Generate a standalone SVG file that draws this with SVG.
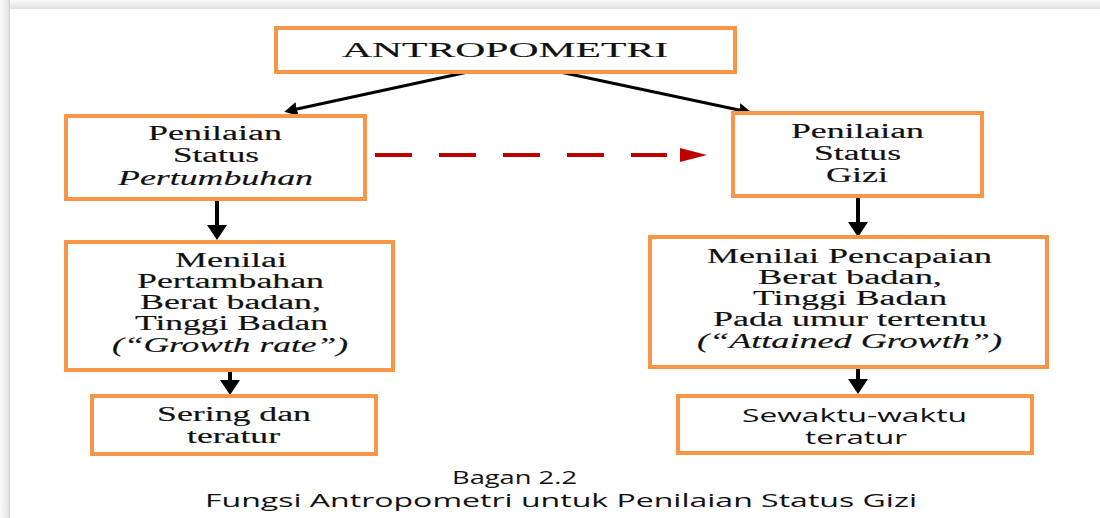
<svg xmlns="http://www.w3.org/2000/svg" width="1100" height="518" viewBox="0 0 1100 518">
<defs>
<linearGradient id="shTop" x1="0" y1="0" x2="0" y2="1">
<stop offset="0" stop-color="#fafafa"/><stop offset="1" stop-color="#e2e2e2"/>
</linearGradient>
<linearGradient id="shLeft" x1="0" y1="0" x2="1" y2="0">
<stop offset="0" stop-color="#fafafa"/><stop offset="0.8" stop-color="#e8e8e8"/><stop offset="1" stop-color="#cccccc"/>
</linearGradient>
<marker id="headV" markerUnits="userSpaceOnUse" markerWidth="22" markerHeight="22" refX="0" refY="10" orient="auto">
<path d="M0,0 L15,10 L0,20 Z" fill="#000"/>
</marker>
<marker id="headD" markerUnits="userSpaceOnUse" markerWidth="16" markerHeight="16" refX="0" refY="7" orient="auto">
<path d="M0,0 L13,7 L0,14 Z" fill="#000"/>
</marker>
<style>
.box{fill:#fff;stroke:#F79646;stroke-width:4}
.t{font-family:"Liberation Serif","Times New Roman",serif;font-size:20px;fill:#111;stroke:#111;stroke-width:0.15}
.i{font-style:italic}
.s{font-family:"Open Sans","Liberation Sans",Arial,sans-serif;font-size:18px;fill:#111}
.arV{stroke:#000;stroke-width:4;fill:none}
.arD{stroke:#000;stroke-width:3;fill:none}
</style>
</defs>
<rect x="0" y="0" width="1100" height="518" fill="#fff"/>
<rect x="0" y="0" width="1100" height="9" fill="url(#shTop)"/>
<rect x="0" y="0" width="10" height="518" fill="url(#shLeft)"/>

<g id="connectors">
<line class="arD" x1="468" y1="72" x2="297" y2="109" marker-end="url(#headD)"/>
<line class="arD" x1="560" y1="72" x2="739" y2="110" marker-end="url(#headD)"/>
<line class="arV" x1="217" y1="199" x2="217" y2="225" marker-end="url(#headV)"/>
<line class="arV" x1="858" y1="196" x2="858" y2="222" marker-end="url(#headV)"/>
<line class="arV" x1="230" y1="370" x2="230" y2="380" marker-end="url(#headV)"/>
<line class="arV" x1="858" y1="367" x2="858" y2="379" marker-end="url(#headV)"/>
<line x1="375" y1="155" x2="667" y2="155" stroke="#C00000" stroke-width="4" stroke-dasharray="37 27"/>
<polygon points="680,148 707,155 680,162" fill="#C00000"/>
</g>

<g id="antropometri">
<rect class="box" x="276" y="28" width="459" height="44"/>
<text class="t" x="342" y="57" font-size="24" textLength="326" lengthAdjust="spacingAndGlyphs">ANTROPOMETRI</text>
</g>

<g id="penilaian-pertumbuhan">
<rect class="box" x="66" y="116" width="299" height="83"/>
<text class="t" x="148" y="140" textLength="134" lengthAdjust="spacingAndGlyphs">Penilaian</text>
<text class="t" x="173" y="162" textLength="86" lengthAdjust="spacingAndGlyphs">Status</text>
<text class="t i" x="118" y="185" textLength="195" lengthAdjust="spacingAndGlyphs">Pertumbuhan</text>
</g>

<g id="penilaian-gizi">
<rect class="box" x="733" y="113" width="249" height="83"/>
<text class="t" x="791" y="138" textLength="133" lengthAdjust="spacingAndGlyphs">Penilaian</text>
<text class="t" x="814" y="160" textLength="87" lengthAdjust="spacingAndGlyphs">Status</text>
<text class="t" x="826" y="182" textLength="62" lengthAdjust="spacingAndGlyphs">Gizi</text>
</g>

<g id="menilai-pertambahan">
<rect class="box" x="66" y="242" width="327" height="128"/>
<text class="t" x="175" y="267" textLength="112" lengthAdjust="spacingAndGlyphs">Menilai</text>
<text class="t" x="137" y="288" textLength="187" lengthAdjust="spacingAndGlyphs">Pertambahan</text>
<text class="t" x="140" y="309" textLength="181" lengthAdjust="spacingAndGlyphs">Berat badan,</text>
<text class="t" x="135" y="330" textLength="193" lengthAdjust="spacingAndGlyphs">Tinggi Badan</text>
<text class="t i" x="112" y="352" textLength="236" lengthAdjust="spacingAndGlyphs">(“Growth rate”)</text>
</g>

<g id="menilai-pencapaian">
<rect class="box" x="650" y="237" width="397" height="130"/>
<text class="t" x="707" y="263" textLength="285" lengthAdjust="spacingAndGlyphs">Menilai Pencapaian</text>
<text class="t" x="758" y="284" textLength="184" lengthAdjust="spacingAndGlyphs">Berat badan,</text>
<text class="t" x="753" y="305" textLength="194" lengthAdjust="spacingAndGlyphs">Tinggi Badan</text>
<text class="t" x="713" y="326" textLength="274" lengthAdjust="spacingAndGlyphs">Pada umur tertentu</text>
<text class="t i" x="697" y="348" textLength="305" lengthAdjust="spacingAndGlyphs">(“Attained Growth”)</text>
</g>

<g id="sering">
<rect class="box" x="92" y="396" width="284" height="58"/>
<text class="t" x="157" y="421" textLength="154" lengthAdjust="spacingAndGlyphs">Sering dan</text>
<text class="t" x="187" y="443" textLength="93" lengthAdjust="spacingAndGlyphs">teratur</text>
</g>

<g id="sewaktu">
<rect class="box" x="678" y="396" width="354" height="57"/>
<text class="s" x="742" y="422" textLength="225" lengthAdjust="spacingAndGlyphs">Sewaktu-waktu</text>
<text class="s" x="805" y="444" textLength="102" lengthAdjust="spacingAndGlyphs">teratur</text>
</g>

<g id="caption">
<text class="s" x="452" y="484" textLength="125" lengthAdjust="spacingAndGlyphs">Bagan 2.2</text>
<text class="s" x="205" y="507" textLength="712" lengthAdjust="spacingAndGlyphs">Fungsi Antropometri untuk Penilaian Status Gizi</text>
</g>
</svg>
